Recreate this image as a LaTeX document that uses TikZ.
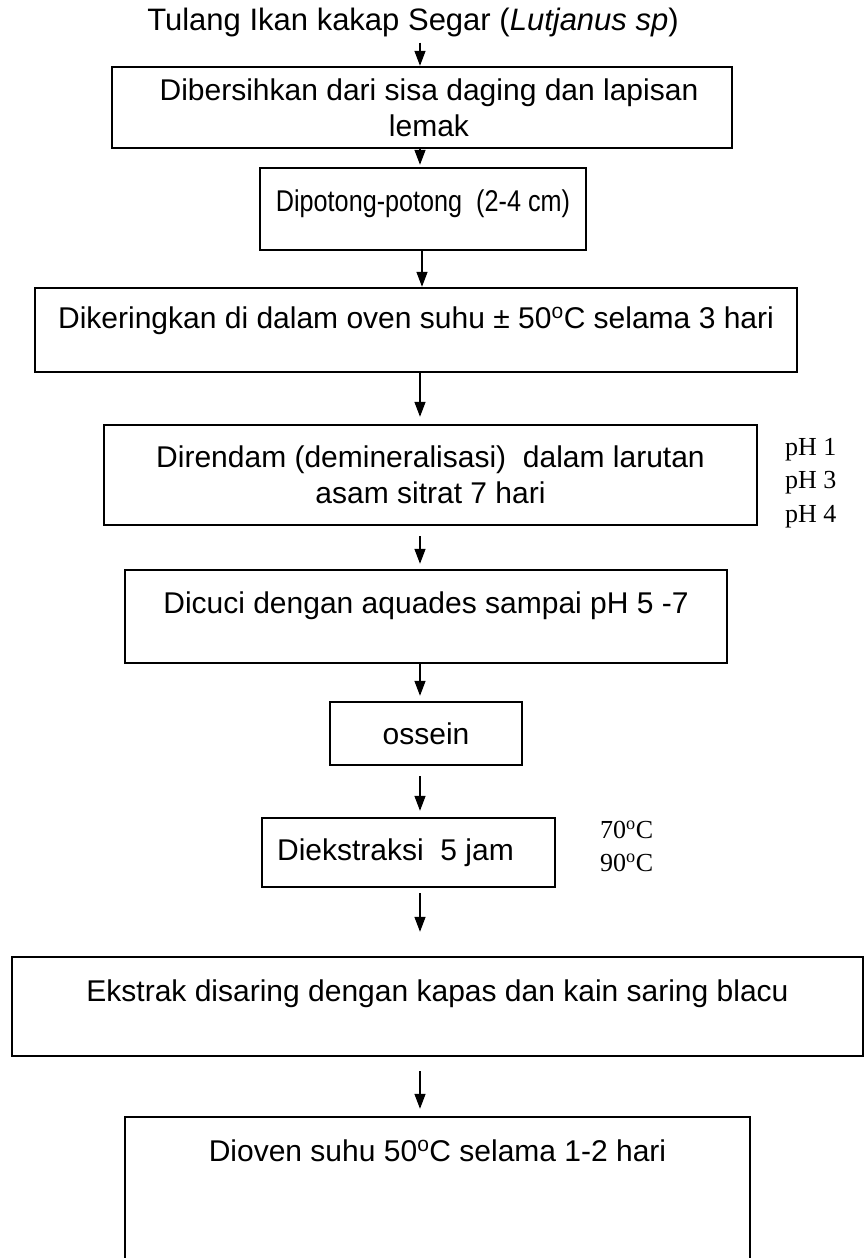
\documentclass[tikz,border=0pt]{standalone}
\usepackage{fontspec}
\setmainfont{Liberation Sans}
\newfontfamily\timesfont{Liberation Serif}
\newfontfamily\narrowfont[FakeStretch=0.84]{Liberation Sans}
\usetikzlibrary{arrows.meta}

\begin{document}
\begin{tikzpicture}[x=1pt, y=-1pt, font=\fontsize{30}{36}\selectfont]
        \tikzstyle{box}=[draw, line width=2.4pt, inner sep=0pt, align=center]
        \tikzstyle{flow}=[line width=1.4pt, -{Triangle[length=15pt, width=11pt]}]
        \tikzstyle{side}=[font=\timesfont\fontsize{26}{33}\selectfont, align=left, inner sep=0pt]

        \useasboundingbox (0,0) rectangle (864,1258);

        \node[inner sep=0pt, font=\fontsize{31}{36}\selectfont] (tulang) at (413,22)
            {Tulang Ikan kakap Segar (\textit{Lutjanus sp})};

        \node[box, minimum width=620pt, minimum height=81pt] (bersih) at (422,107.5)
            {\hspace{14pt}Dibersihkan dari sisa daging dan lapisan\\\hspace{14pt}lemak};
        \node[box, minimum width=326pt, text height=43pt, text depth=39pt,
              font=\narrowfont\fontsize{30}{36}\selectfont] (potong) at (423,209)
            {Dipotong-potong \ (2-4 cm)};
        \node[box, minimum width=762pt, text height=40pt, text depth=44pt] (kering) at (416,330)
            {Dikeringkan di dalam oven suhu ± 50\textsuperscript{o}C selama 3 hari};
        \node[box, minimum width=653pt, minimum height=100pt] (rendam) at (430.5,475)
            {Direndam (demineralisasi) \ dalam larutan\\asam sitrat 7 hari};
        \node[box, minimum width=602pt, text height=43pt, text depth=50pt] (cuci) at (426,616.5)
            {Dicuci dengan aquades sampai pH 5 -7};
        \node[box, minimum width=192pt, minimum height=63pt] (ossein) at (426,733.5) {ossein};
        \node[box, minimum width=293pt, minimum height=69pt] (ekstraksi) at (408.5,852.5)
            {Diekstraksi \ 5 jam\hspace{26pt}};
        \node[box, minimum width=851pt, text height=44pt, text depth=55pt] (saring) at (437.5,1006.5)
            {Ekstrak disaring dengan kapas dan kain saring blacu};
        \node[box, minimum width=625pt, text height=44pt, text depth=119pt] (oven) at (437.5,1198.5)
            {Dioven suhu 50\textsuperscript{o}C selama 1-2 hari};

        \node[side, anchor=north west] (ph) at (785,438) {pH 1\\pH 3\\[1pt]pH 4};
        \node[side, anchor=north west] (suhu) at (600,821) {70\textsuperscript{o}C\\90\textsuperscript{o}C};

        \draw[flow] (tulang.south -| 420,0) ++(0,6) -- (bersih.north -| 420,0);
        \draw[flow, shorten >=2pt] (bersih.south -| 420,0) -- (potong.north -| 420,0);
        \draw[flow] (potong.south -| 422,0) -- (kering.north -| 422,0);
        \draw[flow, shorten >=7pt] (kering.south -| 420,0) -- (rendam.north -| 420,0);
        \draw[flow, shorten <=10pt, shorten >=5pt] (rendam.south -| 420,0) -- (cuci.north -| 420,0);
        \draw[flow, shorten >=5pt] (cuci.south -| 420,0) -- (ossein.north -| 420,0);
        \draw[flow, shorten <=10pt, shorten >=6pt] (ossein.south -| 420,0) -- (ekstraksi.north -| 420,0);
        \draw[flow, shorten <=5pt, shorten >=24pt] (ekstraksi.south -| 420,0) -- (saring.north -| 420,0);
        \draw[flow, shorten <=14pt, shorten >=7pt] (saring.south -| 420,0) -- (oven.north -| 420,0);
\end{tikzpicture}
\end{document}
